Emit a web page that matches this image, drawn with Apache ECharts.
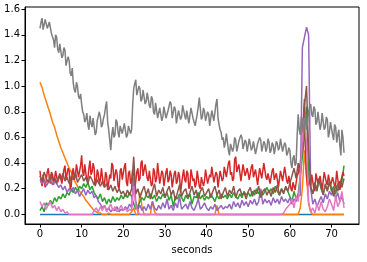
<!DOCTYPE html>
<html>
<head>
<meta charset="utf-8">
<script src="https://cdn.jsdelivr.net/npm/echarts@6/dist/echarts.min.js"></script>
<style>html,body{margin:0;padding:0;background:#fff}#c{width:367px;height:262px}</style>
</head>
<body>
<div id="c"></div>
<script>
const seconds = [0,0.5,1,1.5,2,2.5,3,3.5,4,4.5,5,5.5,6,6.5,7,7.5,8,8.5,9,9.5,10,10.5,11,11.5,12,12.5,13,13.5,14,14.5,15,15.5,16,16.5,17,17.5,18,18.5,19,19.5,20,20.5,21,21.5,22,22.5,23,23.5,24,24.5,25,25.5,26,26.5,27,27.5,28,28.5,29,29.5,30,30.5,31,31.5,32,32.5,33,33.5,34,34.5,35,35.5,36,36.5,37,37.5,38,38.5,39,39.5,40,40.5,41,41.5,42,42.5,43,43.5,44,44.5,45,45.5,46,46.5,47,47.5,48,48.5,49,49.5,50,50.5,51,51.5,52,52.5,53,53.5,54,54.5,55,55.5,56,56.5,57,57.5,58,58.5,59,59.5,60,60.5,61,61.5,62,62.5,63,63.5,64,64.5,65,65.5,66,66.5,67,67.5,68,68.5,69,69.5,70,70.5,71,71.5,72,72.5,73];

const secondsFine = [
0,0.25,0.5,0.75,1,1.25,1.5,1.75,2,2.25,2.5,2.75,3,3.25,3.5,3.75,4,4.25,4.5,4.75,
5,5.25,5.5,5.75,6,6.25,6.5,6.75,7,7.25,7.5,7.75,8,8.25,8.5,8.75,9,9.25,9.5,9.75,
10,10.25,10.5,10.75,11,11.25,11.5,11.75,12,12.25,12.5,12.75,13,13.25,13.5,13.75,14,14.25,14.5,14.75,
15,15.25,15.5,15.75,16,16.25,16.5,16.75,17,17.25,17.5,17.75,18,18.25,18.5,18.75,19,19.25,19.5,19.75,
20,20.25,20.5,20.75,21,21.25,21.5,21.75,22,22.25,22.5,22.75,23,23.25,23.5,23.75,24,24.25,24.5,24.75,
25,25.25,25.5,25.75,26,26.25,26.5,26.75,27,27.25,27.5,27.75,28,28.25,28.5,28.75,29,29.25,29.5,29.75,
30,30.25,30.5,30.75,31,31.25,31.5,31.75,32,32.25,32.5,32.75,33,33.25,33.5,33.75,34,34.25,34.5,34.75,
35,35.25,35.5,35.75,36,36.25,36.5,36.75,37,37.25,37.5,37.75,38,38.25,38.5,38.75,39,39.25,39.5,39.75,
40,40.25,40.5,40.75,41,41.25,41.5,41.75,42,42.25,42.5,42.75,43,43.25,43.5,43.75,44,44.25,44.5,44.75,
45,45.25,45.5,45.75,46,46.25,46.5,46.75,47,47.25,47.5,47.75,48,48.25,48.5,48.75,49,49.25,49.5,49.75,
50,50.25,50.5,50.75,51,51.25,51.5,51.75,52,52.25,52.5,52.75,53,53.25,53.5,53.75,54,54.25,54.5,54.75,
55,55.25,55.5,55.75,56,56.25,56.5,56.75,57,57.25,57.5,57.75,58,58.25,58.5,58.75,59,59.25,59.5,59.75,
60,60.25,60.5,60.75,61,61.25,61.5,61.75,62,62.25,62.5,62.75,63,63.25,63.5,63.75,64,64.25,64.5,64.75,
65,65.25,65.5,65.75,66,66.25,66.5,66.75,67,67.25,67.5,67.75,68,68.25,68.5,68.75,69,69.25,69.5,69.75,
70,70.25,70.5,70.75,71,71.25,71.5,71.75,72,72.25,72.5,72.75,73];

const xTicks = [0,10,20,30,40,50,60,70];
const yTicks = [0,0.2,0.4,0.6,0.8,1.0,1.2,1.4,1.6];

const blueVals = [
0,0,0,0,0,0,0,0,0,0, 0,0,0,0,0,0,0,0,0,0, 0,0,0,0,0,0,0,0,0,0, 0,0,0,0,0,0,0,0,0,0,
0,0,0,0,0,0,0,0,0,0, 0,0,0,0,0,0,0,0,0,0, 0,0,0,0,0,0,0,0,0,0, 0,0,0,0,0,0,0,0,0,0,
0,0,0,0,0,0,0,0,0,0, 0,0,0,0,0,0,0,0,0,0, 0,0,0,0,0,0,0,0,0,0, 0,0,0,0,0,0,0,0,0,0,
0,0,0,0,0,0,0,0,0,0, 0,0,0,0,0,0,0,0,0,0, 0,0,0,0,0,0,0];

const orangeVals = [
1.03,0.99,0.93,0.88,0.83,0.78,0.72,0.68,0.62,0.57,
0.52,0.48,0.44,0.40,0.36,0.33,0.28,0.25,0.22,0.18,
0.16,0.14,0.11,0.09,0.07,0.05,0.03,0.02,0.01,0.01,
0,0,0,0.01,0,0,0,0,0,0,
0,0,0,0,0.02,0.05,0,0,0.17,0.06,
0,0,0,0,0.10,0.02,0,0,0,0,
0,0,0,0,0,0,0,0,0,0,
0,0,0,0,0,0,0,0,0,0,
0,0,0,0,0,0.07,0,0,0,0,
0,0,0,0,0,0,0,0,0,0,
0,0,0,0,0,0,0,0,0,0,
0,0,0,0,0,0,0,0,0,0,
0,0,0,0,0,0.05,0.20,0.50,0.30,0.08,
0.02,0,0,0,0,0,0,0,0,0,
0,0,0,0,0,0,0];

const greenVals = [
0.03,0.06,0.02,0.09,0.07,0.11,0.08,0.13,0.10,0.14,
0.12,0.16,0.13,0.17,0.15,0.20,0.17,0.21,0.18,0.22,
0.20,0.24,0.21,0.25,0.19,0.22,0.17,0.14,0.12,0.16,
0.10,0.13,0.08,0.12,0.09,0.14,0.10,0.13,0.11,0.15,
0.12,0.16,0.13,0.17,0.14,0.08,0.04,0.06,0.10,0.13,
0.11,0.15,0.13,0.16,0.12,0.15,0.10,0.14,0.12,0.16,
0.13,0.17,0.11,0.15,0.06,0.14,0.12,0.16,0.13,0.10,
0.15,0.12,0.16,0.08,0.14,0.13,0.17,0.12,0.15,0.11,
0.14,0.12,0.16,0.13,0.10,0.15,0.12,0.16,0.13,0.15,
0.12,0.16,0.13,0.17,0.14,0.12,0.16,0.13,0.18,0.15,
0.17,0.14,0.18,0.15,0.20,0.16,0.19,0.15,0.18,0.21,
0.17,0.20,0.16,0.22,0.18,0.15,0.20,0.17,0.21,0.18,
0.14,0.10,0.18,0.12,0.16,0.30,0.45,0.60,0.84,0.30,
0.20,0.16,0.24,0.18,0.28,0.20,0.16,0.22,0.19,0.25,
0.18,0.22,0.16,0.24,0.20,0.26,0.38];

const redVals = [
0.34,0.26,0.22,0.31,0.30,0.21,0.27,0.33,0.36,0.28,0.24,0.33,0.31,0.23,0.28,0.34,0.35,0.25,0.26,0.32,
0.33,0.24,0.29,0.35,0.38,0.27,0.27,0.36,0.34,0.20,0.22,0.33,0.36,0.27,0.30,0.39,0.40,0.29,0.28,0.38,
0.46,0.33,0.30,0.39,0.38,0.26,0.28,0.36,0.42,0.31,0.33,0.40,0.36,0.22,0.25,0.35,0.32,0.24,0.27,0.36,
0.35,0.22,0.24,0.33,0.30,0.19,0.20,0.31,0.28,0.40,0.38,0.26,0.25,0.35,0.32,0.22,0.20,0.34,0.36,0.27,
0.28,0.37,0.40,0.25,0.22,0.32,0.34,0.24,0.26,0.35,0.30,0.19,0.20,0.33,0.36,0.26,0.28,0.40,0.42,0.30,
0.30,0.39,0.38,0.28,0.26,0.34,0.35,0.22,0.24,0.36,0.33,0.25,0.28,0.40,0.39,0.24,0.25,0.34,0.32,0.22,
0.22,0.33,0.36,0.25,0.27,0.34,0.31,0.21,0.20,0.32,0.34,0.24,0.26,0.33,0.30,0.17,0.18,0.30,0.35,0.27,
0.25,0.34,0.32,0.20,0.22,0.35,0.36,0.26,0.28,0.21,0.24,0.34,0.33,0.22,0.20,0.29,0.30,0.22,0.26,0.35,
0.34,0.24,0.23,0.31,0.29,0.37,0.36,0.25,0.26,0.33,0.31,0.21,0.22,0.34,0.35,0.26,0.28,0.37,0.38,0.29,
0.30,0.40,0.42,0.31,0.33,0.26,0.28,0.43,0.45,0.33,0.34,0.39,0.38,0.26,0.27,0.39,0.40,0.30,0.31,0.36,
0.36,0.27,0.26,0.37,0.39,0.29,0.30,0.35,0.34,0.23,0.24,0.36,0.37,0.28,0.29,0.40,0.41,0.29,0.27,0.32,
0.33,0.24,0.25,0.34,0.36,0.27,0.28,0.32,0.31,0.21,0.22,0.34,0.35,0.26,0.27,0.37,0.38,0.26,0.24,0.30,
0.30,0.20,0.18,0.25,0.26,0.19,0.20,0.30,0.32,0.36,0.40,0.48,0.55,0.75,0.90,0.50,0.30,0.22,0.24,0.28,
0.22,0.31,0.30,0.20,0.18,0.32,0.33,0.24,0.25,0.30,0.29,0.19,0.20,0.33,0.34,0.25,0.23,0.31,0.31,0.22,
0.21,0.29,0.28,0.22,0.24,0.34,0.33,0.21,0.19,0.26,0.27,0.33,0.30];

const purpleVals = [
0.27,0.24,0.26,0.22,0.25,0.27,0.23,0.26,0.24,0.21,
0.23,0.19,0.22,0.17,0.20,0.18,0.21,0.16,0.19,0.14,
0.17,0.20,0.15,0.19,0.16,0.18,0.13,0.15,0.10,0.08,
0.05,0.07,0.03,0.05,0.02,0.04,0.03,0.06,0.02,0.04,
0.03,0.06,0.04,0.08,0.05,0.30,0.10,0.04,0.07,0.03,
0.06,0.03,0.08,0.04,0.10,0.05,0.03,0.07,0.04,0.09,
0.05,0.12,0.04,0.07,0.03,0.09,0.05,0.14,0.04,0.06,
0.08,0.04,0.10,0.05,0.03,0.07,0.12,0.04,0.06,0.09,
0.05,0.03,0.06,0.04,0.08,0.03,0.05,0.07,0.04,0.06,
0.05,0.08,0.04,0.10,0.06,0.09,0.05,0.11,0.07,0.10,
0.06,0.11,0.08,0.12,0.07,0.10,0.20,0.08,0.12,0.09,
0.11,0.07,0.13,0.09,0.12,0.08,0.14,0.10,0.12,0.09,
0.13,0.08,0.12,0.10,0.14,0.15,1.30,1.38,1.46,1.40,
0.20,0.08,0.12,0.06,0.10,0.14,0.09,0.16,0.12,0.18,
0.15,0.20,0.12,0.17,0.10,0.14,0.08];

const brownVals = [
0.30,0.26,0.33,0.28,0.25,0.31,0.27,0.29,0.24,0.30,
0.27,0.32,0.26,0.29,0.24,0.30,0.27,0.33,0.25,0.28,
0.31,0.26,0.29,0.24,0.30,0.27,0.23,0.28,0.25,0.22,
0.26,0.21,0.24,0.19,0.23,0.18,0.22,0.17,0.20,0.16,
0.18,0.14,0.19,0.15,0.20,0.45,0.16,0.20,0.13,0.18,
0.22,0.15,0.20,0.12,0.18,0.24,0.14,0.19,0.16,0.21,
0.13,0.18,0.22,0.15,0.19,0.11,0.17,0.23,0.14,0.18,
0.20,0.13,0.17,0.22,0.15,0.19,0.12,0.18,0.21,0.14,
0.17,0.20,0.13,0.18,0.22,0.15,0.19,0.12,0.17,0.21,
0.14,0.19,0.16,0.22,0.13,0.18,0.20,0.15,0.17,0.12,
0.18,0.21,0.14,0.19,0.16,0.22,0.13,0.18,0.20,0.15,
0.19,0.14,0.21,0.17,0.23,0.15,0.20,0.16,0.22,0.18,
0.24,0.30,0.36,0.28,0.40,0.32,0.55,0.85,1.00,0.50,
0.22,0.16,0.25,0.19,0.27,0.21,0.15,0.24,0.18,0.26,
0.20,0.14,0.23,0.18,0.26,0.21,0.28];

const pinkVals = [
0.10,0.06,0.09,0.04,0.08,0.10,0.05,0.07,0.03,0.06,
0.02,0.04,0.01,0.02,0,0,0,0,0,0,
0,0,0,0,0,0,0.03,0.05,0.02,0.06,
0.03,0.07,0.02,0.05,0.08,0.03,0.06,0.02,0.04,0.07,
0.03,0.05,0.02,0.04,0.03,0.22,0.06,0.02,0,0,
0,0,0,0,0,0,0,0,0,0,
0,0,0,0,0,0,0,0,0,0,
0,0,0,0,0,0,0,0,0,0,
0,0,0,0,0,0,0,0,0,0,
0,0,0,0,0,0,0,0,0,0,
0,0,0,0,0,0,0,0,0,0,
0,0,0,0,0,0,0,0.01,0.04,0.06,
0.08,0.12,0.05,0.14,0.10,0.30,0.60,0.75,0.55,0.10,
0.02,0.05,0.01,0.08,0.03,0.10,0.04,0.02,0.06,0.12,
0.08,0.03,0.14,0.06,0.10,0.18,0.05];

const grayVals = [
1.45,1.50,1.53,1.44,1.43,1.52,1.51,1.45,1.44,1.50,1.49,1.41,1.42,1.36,1.30,1.40,1.38,1.29,1.26,1.33,
1.32,1.22,1.24,1.30,1.28,1.16,1.15,1.23,1.20,1.10,1.08,1.14,1.02,0.97,0.95,1.03,1.00,0.92,0.90,0.94,
0.86,0.80,0.78,0.72,0.74,0.79,0.70,0.66,0.77,0.71,0.68,0.75,0.74,0.62,0.64,0.73,0.72,0.80,0.76,0.68,
0.70,0.75,0.78,0.84,0.88,0.72,0.66,0.58,0.50,0.62,0.68,0.60,0.62,0.74,0.72,0.64,0.60,0.69,0.70,0.63,
0.64,0.71,0.70,0.60,0.62,0.69,0.68,0.63,0.66,0.85,0.98,1.02,1.05,0.93,0.92,1.00,0.98,0.88,0.90,0.97,
0.96,0.86,0.88,0.95,0.94,0.85,0.83,0.92,0.90,0.80,0.78,0.87,0.86,0.75,0.74,0.83,0.82,0.73,0.76,0.84,
0.84,0.75,0.74,0.81,0.80,0.88,0.86,0.75,0.76,0.84,0.82,0.71,0.72,0.81,0.80,0.74,0.76,0.85,0.84,0.77,
0.74,0.81,0.80,0.71,0.72,0.83,0.82,0.75,0.76,0.69,0.70,0.78,0.84,0.91,0.90,0.74,0.76,0.83,0.80,0.73,
0.72,0.80,0.78,0.69,0.70,0.81,0.82,0.73,0.74,0.86,0.90,0.75,0.70,0.66,0.64,0.58,0.60,0.52,0.56,0.63,
0.62,0.50,0.46,0.55,0.56,0.49,0.52,0.60,0.58,0.49,0.50,0.57,0.56,0.62,0.60,0.51,0.52,0.58,0.56,0.49,
0.50,0.59,0.58,0.50,0.52,0.57,0.56,0.47,0.48,0.55,0.54,0.60,0.58,0.49,0.50,0.57,0.55,0.49,0.52,0.59,
0.56,0.48,0.50,0.56,0.54,0.47,0.48,0.57,0.55,0.50,0.52,0.59,0.58,0.49,0.50,0.56,0.54,0.46,0.48,0.52,
0.50,0.40,0.36,0.44,0.46,0.38,0.40,0.62,0.78,0.66,0.62,0.76,0.74,0.64,0.70,0.78,0.66,0.72,0.80,0.84,
0.86,0.78,0.76,0.84,0.82,0.70,0.72,0.80,0.80,0.66,0.70,0.79,0.78,0.66,0.68,0.76,0.74,0.60,0.64,0.72,
0.72,0.62,0.58,0.70,0.68,0.56,0.62,0.66,0.54,0.46,0.66,0.60,0.48];

const seriesList = [
  {t: seconds, vals: blueVals, color: '#1f77b4'},
  {t: seconds, vals: orangeVals, color: '#ff7f0e'},
  {t: seconds, vals: greenVals, color: '#2ca02c'},
  {t: secondsFine, vals: redVals, color: '#d62728'},
  {t: seconds, vals: purpleVals, color: '#9467bd'},
  {t: seconds, vals: brownVals, color: '#8c564b'},
  {t: seconds, vals: pinkVals, color: '#e377c2'},
  {t: secondsFine, vals: grayVals, color: '#7f7f7f'}
];

const font = 'DejaVu Sans';
const chart = echarts.init(document.getElementById('c'), null, {renderer: 'canvas'});
chart.setOption({
  animation: false,
  backgroundColor: '#fff',
  grid: {left: 25, right: 8, top: 7, bottom: 38, show: true, borderColor: '#000', borderWidth: 1, backgroundColor: 'transparent'},
  xAxis: {
    type: 'value', min: -3.6, max: 76.6,
    name: 'seconds', nameLocation: 'middle', nameGap: 21,
    nameTextStyle: {fontFamily: font, fontSize: 10, color: '#000'},
    axisLine: {show: true, onZero: false, lineStyle: {color: '#000', width: 1}},
    axisTick: {show: true, length: 3.5, lineStyle: {color: '#000', width: 1}, customValues: xTicks},
    axisLabel: {fontFamily: font, fontSize: 10, color: '#000', margin: 5, customValues: xTicks},
    splitLine: {show: false}
  },
  yAxis: {
    type: 'value', min: -0.075, max: 1.617,
    axisLine: {show: true, onZero: false, lineStyle: {color: '#000', width: 1}},
    axisTick: {show: true, length: 3.5, lineStyle: {color: '#000', width: 1}, customValues: yTicks},
    axisLabel: {fontFamily: font, fontSize: 10, color: '#000', margin: 5, customValues: yTicks,
      formatter: v => v.toFixed(1)},
    splitLine: {show: false}
  },
  series: seriesList.map((s, k) => ({
    type: 'line',
    z: 2 + k,
    data: s.t.map((t, i) => [t, s.vals[i]]),
    showSymbol: false,
    symbol: 'none',
    lineStyle: {color: s.color, width: 1.5},
    itemStyle: {color: s.color},
    emphasis: {disabled: true},
    silent: true
  }))
});
</script>
</body>
</html>
